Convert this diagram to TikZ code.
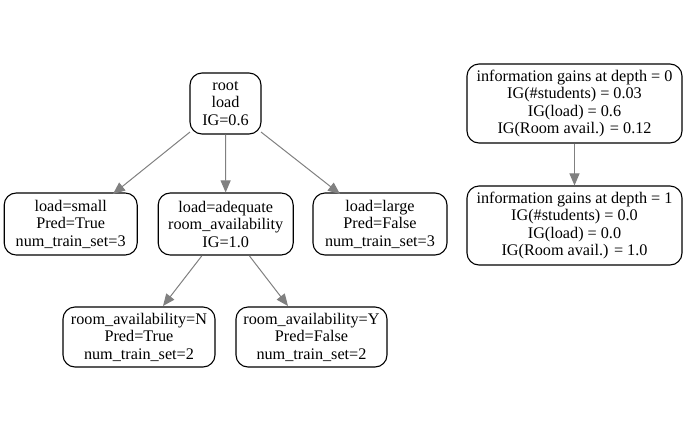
\documentclass[tikz,border=0pt]{standalone}
\usepackage{fontspec}
\setmainfont{Liberation Serif}
\newfontfamily\gvfont{Liberation Serif}
\usetikzlibrary{arrows.meta}
\definecolor{edgegray}{HTML}{808080}
\tikzset{
  box/.style={draw=black, line width=1.1pt, rounded corners=12pt, align=center,
    font=\gvfont\fontsize{16.2}{17.5}\selectfont, inner sep=0pt, anchor=center},
  edge/.style={draw=edgegray, line width=1pt, -{Triangle[length=12pt,width=10pt]}, shorten >=0pt}
}
\begin{document}
\begin{tikzpicture}[x=1pt,y=-1pt]
\useasboundingbox (0,0) rectangle (686,432);
\node[box, minimum width=71pt, minimum height=61pt] (root) at (225.5,103.5) {root\\load\\IG=0.6};
\node[box, minimum width=133pt, minimum height=62pt] (small) at (70.7,224) {load=small\\Pred=True\\num\_train\_set=3};
\node[box, minimum width=135pt, minimum height=62pt] (adeq) at (225.7,224) {load=adequate\\room\_availability\\IG=1.0};
\node[box, minimum width=134pt, minimum height=62pt] (large) at (380,224) {load=large\\Pred=False\\num\_train\_set=3};
\node[box, minimum width=152pt, minimum height=60pt] (roomN) at (139,337) {room\_availability=N\\Pred=True\\num\_train\_set=2};
\node[box, minimum width=151pt, minimum height=60pt] (roomY) at (311.5,337) {room\_availability=Y\\Pred=False\\num\_train\_set=2};
\node[box, minimum width=215pt, minimum height=79pt] (ig0) at (574.5,103.5) {information gains at depth = 0\\IG(\#students) = 0.03\\IG(load) = 0.6\\IG(Room avail.) = 0.12};
\node[box, minimum width=215pt, minimum height=79pt] (ig1) at (574.5,225.5) {information gains at depth = 1\\IG(\#students) = 0.0\\IG(load) = 0.0\\IG(Room avail.) = 1.0};
\coordinate (rootBL) at (190,132);
\coordinate (rootBR) at (261,132);
\coordinate (smallT) at (113,194);
\coordinate (largeT) at (340,194);
\coordinate (adeqBL) at (201.7,256);
\coordinate (adeqBR) at (249.5,256);
\coordinate (roomNT) at (163,306);
\coordinate (roomYT) at (288,306);
\draw[edge] (rootBL) -- (smallT);
\draw[edge] (root) -- (adeq);
\draw[edge] (rootBR) -- (largeT);
\draw[edge] (adeqBL) -- (roomNT);
\draw[edge] (adeqBR) -- (roomYT);
\draw[edge] (ig0) -- (ig1);
\end{tikzpicture}
\end{document}
